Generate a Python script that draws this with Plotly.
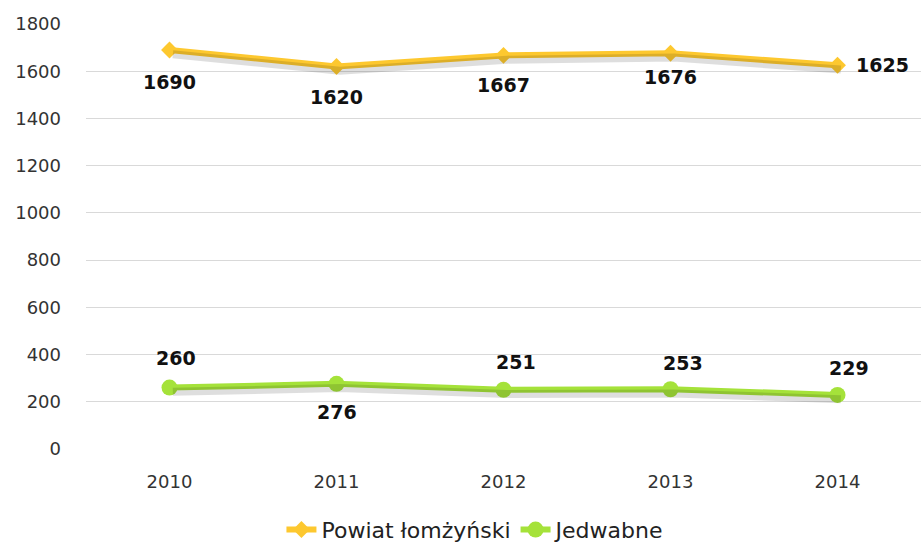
import plotly.graph_objects as go

years = ["2010", "2011", "2012", "2013", "2014"]
powiat = [1690, 1620, 1667, 1676, 1625]
jedwabne = [260, 276, 251, 253, 229]

YELLOW = "#FDC82F"
GREEN = "#A5E23A"

fig = go.Figure()

# cień pod liniami (oś przesunięta o kilka pikseli)
for vals in (powiat, jedwabne):
    fig.add_trace(go.Scatter(
        x=years, y=vals, mode="lines", xaxis="x2", yaxis="y2",
        line=dict(color="rgba(0,0,0,0.13)", width=8),
        showlegend=False, hoverinfo="skip",
    ))

fig.add_trace(go.Scatter(
    x=years, y=powiat, name="Powiat łomżyński",
    mode="lines+markers",
    line=dict(color=YELLOW, width=6),
    marker=dict(symbol="diamond", size=13, color=YELLOW),
))
fig.add_trace(go.Scatter(
    x=years, y=jedwabne, name="Jedwabne",
    mode="lines+markers",
    line=dict(color=GREEN, width=6),
    marker=dict(symbol="circle", size=16, color=GREEN),
))

# etykiety danych
p_shift = [(0, -32), (0, -30), (0, -30), (0, -24), (45, 0)]
j_shift = [(6, 30), (0, -28), (12, 28), (12, 26), (11, 27)]
lab_font = dict(family="DejaVu Sans", size=19, color="#111111", weight="bold")
for i in range(len(years)):
    fig.add_annotation(x=i, y=powiat[i], xref="x", yref="y", text=str(powiat[i]),
                       showarrow=False, xshift=p_shift[i][0], yshift=p_shift[i][1], font=lab_font)
    fig.add_annotation(x=i, y=jedwabne[i], xref="x", yref="y", text=str(jedwabne[i]),
                       showarrow=False, xshift=j_shift[i][0], yshift=j_shift[i][1], font=lab_font)

fig.update_layout(
    width=921, height=542,
    margin=dict(l=86, r=0, t=24, b=93, autoexpand=False),
    paper_bgcolor="white", plot_bgcolor="white",
    font=dict(family="DejaVu Sans", size=17, color="#333333"),
    showlegend=True,
    legend=dict(orientation="h", x=0.467, xanchor="center", y=-0.19, yanchor="middle",
                font=dict(size=22, color="#222222")),
    xaxis=dict(range=[-0.5, 4.5], showgrid=False, showline=False, ticks="",
               tickfont=dict(size=18), ticklabelstandoff=20),
    yaxis=dict(range=[0, 1800], dtick=200, showgrid=True, gridcolor="#D9D9D9", gridwidth=1,
               zeroline=False, showline=False, ticks="", tickfont=dict(size=18),
               ticklabelstandoff=24),
    xaxis2=dict(overlaying="x", range=[-0.52, 4.48], visible=False),
    yaxis2=dict(overlaying="y", range=[18, 1818], visible=False),
)

fig.write_html("out.html", config={"displayModeBar": False},
               post_script="document.body.style.margin='0';")
